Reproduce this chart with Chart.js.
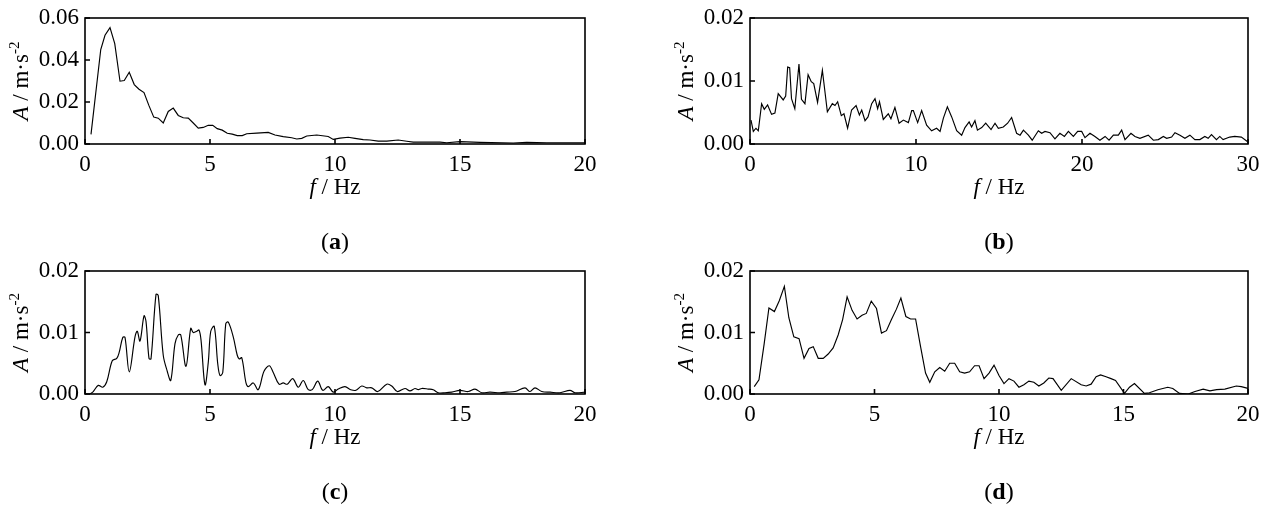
<!DOCTYPE html>
<html>
<head>
<meta charset="utf-8">
<title>Acceleration spectra</title>
<script src="https://cdn.jsdelivr.net/npm/chart.js@4.4.0/dist/chart.umd.min.js"></script>
<style>
  body { margin: 0; background: #fff; }
  #wrap { position: relative; width: 1269px; height: 518px; overflow: hidden; }
  canvas { position: absolute; }
</style>
</head>
<body>
<div id="wrap">
  <canvas id="chartA" width="634" height="255" style="left:0px;top:0px"></canvas>
  <canvas id="chartB" width="635" height="255" style="left:634px;top:0px"></canvas>
  <canvas id="chartC" width="634" height="268" style="left:0px;top:250px"></canvas>
  <canvas id="chartD" width="635" height="268" style="left:634px;top:250px"></canvas>
</div>
<script>
// panel (a)
const freqA = [0.24, 0.63, 0.8, 1.0, 1.19, 1.4, 1.57, 1.77, 1.97, 2.16,
    2.36, 2.55, 2.75, 2.93, 3.13, 3.33, 3.53, 3.73, 3.93, 4.13,
    4.33, 4.53, 4.73, 4.93, 5.11, 5.29, 5.49, 5.69, 5.89, 6.09,
    6.29, 6.47, 6.87, 7.33, 7.6, 7.93, 8.27, 8.47, 8.67, 8.87,
    9.27, 9.73, 9.93, 10.2, 10.53, 10.8, 11.13, 11.4, 11.73, 12.07,
    12.53, 12.87, 13.13, 14.2, 14.47, 15.0, 15.8, 17.13, 17.67, 18.47,
    20];
const ampA = [0.0046, 0.045, 0.0518, 0.0554, 0.0478, 0.0299, 0.0302, 0.0342, 0.0283, 0.0261,
    0.0245, 0.0185, 0.0128, 0.0123, 0.0100, 0.0155, 0.0171, 0.0136, 0.0125, 0.0123,
    0.0100, 0.0076, 0.0079, 0.0089, 0.0089, 0.0073, 0.0066, 0.0051, 0.0047, 0.0040,
    0.0040, 0.0049, 0.0052, 0.0055, 0.0043, 0.0035, 0.0030, 0.0024, 0.0027, 0.0038,
    0.0043, 0.0036, 0.0022, 0.0028, 0.0032, 0.0027, 0.0021, 0.0019, 0.0014, 0.0014,
    0.0019, 0.0013, 0.0009, 0.0009, 0.0006, 0.0011, 0.0008, 0.0005, 0.0008, 0.0006,
    0.0006];

// panel (b)
const freqB = [0.06, 0.2, 0.36, 0.5, 0.7, 0.86, 1.06, 1.3, 1.5, 1.7,
    2.0, 2.15, 2.27, 2.39, 2.5, 2.7, 2.95, 3.1, 3.31, 3.5,
    3.69, 3.84, 4.07, 4.36, 4.66, 4.96, 5.12, 5.28, 5.5, 5.66, 5.88,
    6.12, 6.39, 6.59, 6.73, 6.93, 7.11, 7.33, 7.53, 7.69, 7.8, 8.03,
    8.33, 8.49, 8.73, 8.98, 9.24, 9.54, 9.74, 9.84, 10.1, 10.34,
    10.64, 10.94, 11.24, 11.45, 11.65, 11.89, 12.15, 12.45, 12.75, 12.95,
    13.2, 13.35, 13.55, 13.7, 13.96, 14.2, 14.52, 14.76, 14.96, 15.26,
    15.52, 15.76, 16.06, 16.27, 16.47, 16.77, 17.0, 17.37, 17.57, 17.77,
    18.07, 18.37, 18.67, 18.94, 19.18, 19.48, 19.74, 19.98, 20.18, 20.48,
    20.78, 21.08, 21.39, 21.63, 21.89, 22.19, 22.39, 22.59, 22.95, 23.19,
    23.49, 23.99, 24.3, 24.6, 24.9, 25.1, 25.4, 25.6, 25.9, 26.2,
    26.5, 26.8, 27.1, 27.4, 27.6, 27.8, 28.1, 28.3, 28.5, 28.9,
    29.2, 29.6, 29.96];
const ampB = [0.0038, 0.0020, 0.0025, 0.0021, 0.0064, 0.0055, 0.0062, 0.0047, 0.0049, 0.0080,
    0.0070, 0.0076, 0.0122, 0.0121, 0.0072, 0.0056, 0.0127, 0.0071, 0.0064, 0.0110,
    0.0099, 0.0096, 0.0066, 0.0117, 0.0051, 0.0064, 0.0061, 0.0067, 0.0045, 0.0048, 0.0025,
    0.0054, 0.0061, 0.0046, 0.0054, 0.0037, 0.0043, 0.0064, 0.0072, 0.0056, 0.0067, 0.0039,
    0.0048, 0.0040, 0.0058, 0.0033, 0.0038, 0.0034, 0.0053, 0.0053, 0.0034, 0.0053,
    0.0030, 0.0021, 0.0025, 0.0020, 0.0041, 0.0059, 0.0043, 0.0021, 0.0014, 0.0026,
    0.0035, 0.0027, 0.0037, 0.0022, 0.0026, 0.0033, 0.0023, 0.0033, 0.0025, 0.0027,
    0.0033, 0.0042, 0.0017, 0.0014, 0.0022, 0.0014, 0.0006, 0.0021, 0.0017, 0.0020,
    0.0018, 0.0008, 0.0017, 0.0012, 0.0020, 0.0012, 0.0020, 0.0020, 0.0010, 0.0017,
    0.0012, 0.0006, 0.0012, 0.0006, 0.0014, 0.0014, 0.0022, 0.0007, 0.0017, 0.0012,
    0.0009, 0.0014, 0.0006, 0.0007, 0.0012, 0.0009, 0.0011, 0.0018, 0.0014, 0.0009,
    0.0014, 0.0007, 0.0007, 0.0012, 0.0009, 0.0015, 0.0007, 0.0012, 0.0007, 0.0011,
    0.0012, 0.0011, 0.0004];

// panel (c)
const freqC = [0.2, 0.33, 0.53, 0.71, 0.87, 1.09, 1.27, 1.37, 1.51, 1.6,
    1.77, 2.0, 2.09, 2.2, 2.36, 2.44, 2.56, 2.64, 2.84, 2.93,
    3.13, 3.29, 3.43, 3.6, 3.73, 3.83, 4.04, 4.23, 4.33, 4.47,
    4.56, 4.64, 4.8, 4.93, 5.03, 5.17, 5.31, 5.4, 5.51, 5.63,
    5.73, 5.93, 6.09, 6.17, 6.27, 6.44, 6.53, 6.73, 6.93, 7.16,
    7.37, 7.53, 7.76, 7.93, 8.09, 8.31, 8.53, 8.73, 8.93, 9.09,
    9.31, 9.51, 9.73, 9.93, 10.13, 10.4, 10.63, 10.84, 11.07, 11.27,
    11.47, 11.71, 12.07, 12.27, 12.49, 12.8, 13.0, 13.2, 13.33, 13.47,
    13.73, 13.93, 14.13, 14.4, 14.67, 15.0, 15.33, 15.6, 15.87, 16.2,
    16.6, 16.87, 17.2, 17.6, 17.8, 18.0, 18.27, 18.6, 19.0, 19.4,
    19.6, 20];
const ampC = [0.0000, 0.0004, 0.0014, 0.0011, 0.0020, 0.0054, 0.0058, 0.0068, 0.0092, 0.0092,
    0.0036, 0.0093, 0.0102, 0.0086, 0.0127, 0.0118, 0.0058, 0.0057, 0.0162, 0.0160,
    0.0063, 0.0037, 0.0022, 0.0082, 0.0096, 0.0096, 0.0045, 0.0107, 0.0100, 0.0102,
    0.0104, 0.0088, 0.0015, 0.0051, 0.0102, 0.0110, 0.0049, 0.0030, 0.0035, 0.0114,
    0.0117, 0.0093, 0.0063, 0.0057, 0.0059, 0.0018, 0.0012, 0.0018, 0.0007, 0.0037,
    0.0046, 0.0035, 0.0016, 0.0018, 0.0016, 0.0025, 0.0011, 0.0022, 0.0007, 0.0007,
    0.0021, 0.0006, 0.0012, 0.0003, 0.0008, 0.0012, 0.0007, 0.0006, 0.0013, 0.0010,
    0.0010, 0.0004, 0.0016, 0.0013, 0.0004, 0.0009, 0.0005, 0.0009, 0.0007, 0.0009,
    0.0008, 0.0007, 0.0002, 0.0002, 0.0003, 0.0006, 0.0004, 0.0008, 0.0002, 0.0003,
    0.0002, 0.0003, 0.0004, 0.0010, 0.0004, 0.0010, 0.0004, 0.0003, 0.0002, 0.0006,
    0.0002, 0.0003];

// panel (d)
const freqD = [0.17, 0.36, 0.57, 0.76, 0.98, 1.18, 1.38, 1.56, 1.76, 1.97,
    2.17, 2.37, 2.54, 2.74, 2.94, 3.14, 3.34, 3.54, 3.72, 3.9,
    4.1, 4.3, 4.5, 4.67, 4.87, 5.08, 5.28, 5.48, 5.68, 5.88,
    6.06, 6.26, 6.45, 6.65, 6.85, 7.05, 7.22, 7.42, 7.62, 7.82,
    8.02, 8.22, 8.42, 8.62, 8.82, 9.02, 9.2, 9.4, 9.6, 9.8,
    10.0, 10.2, 10.4, 10.6, 10.8, 11.0, 11.2, 11.4, 11.6, 11.8,
    12.0, 12.17, 12.5, 12.9, 13.3, 13.5, 13.7, 13.9, 14.08, 14.3,
    14.5, 14.68, 15.04, 15.24, 15.44, 15.84, 16.04, 16.38, 16.78, 16.98,
    17.25, 17.6, 17.87, 18.2, 18.47, 18.74, 19.07, 19.53, 19.73, 20];
const ampD = [0.0012, 0.0023, 0.0082, 0.0140, 0.0134, 0.0152, 0.0175, 0.0124, 0.0093, 0.0090,
    0.0058, 0.0074, 0.0077, 0.0058, 0.0058, 0.0065, 0.0075, 0.0096, 0.0121, 0.0158,
    0.0136, 0.0122, 0.0128, 0.0131, 0.0151, 0.0139, 0.0099, 0.0103, 0.0121, 0.0138,
    0.0156, 0.0126, 0.0122, 0.0122, 0.0077, 0.0034, 0.0019, 0.0036, 0.0043, 0.0037,
    0.0050, 0.0050, 0.0036, 0.0034, 0.0036, 0.0046, 0.0046, 0.0025, 0.0034, 0.0047,
    0.0030, 0.0017, 0.0025, 0.0021, 0.0011, 0.0015, 0.0021, 0.0019, 0.0013, 0.0018,
    0.0026, 0.0025, 0.0006, 0.0025, 0.0015, 0.0013, 0.0016, 0.0028, 0.0031, 0.0028,
    0.0025, 0.0022, 0.0001, 0.0011, 0.0017, 0.0001, 0.0002, 0.0007, 0.0011, 0.0009,
    0.0001, 0.0000, 0.0004, 0.0008, 0.0005, 0.0007, 0.0008, 0.0013, 0.0012, 0.0009];

const serif = '"Liberation Serif", "Times New Roman", serif';

// draw a row of text pieces with their own fonts, centred on (x, y)
function drawPieces(ctx, pieces, x, y) {
    let total = 0;
    pieces.forEach(p => { ctx.font = p.font; p.w = ctx.measureText(p.text).width; total += p.w; });
    let cx = x - total / 2;
    ctx.textAlign = 'left';
    ctx.textBaseline = 'alphabetic';
    pieces.forEach(p => {
        ctx.font = p.font;
        ctx.fillText(p.text, cx, y + (p.dy || 0));
        cx += p.w;
    });
}

const framePlugin = {
    id: 'frame',
    afterDraw(chart, args, opts) {
        const { ctx, chartArea: a, scales } = chart;
        ctx.save();
        ctx.strokeStyle = '#000';
        ctx.fillStyle = '#000';
        ctx.lineWidth = 1.6;
        ctx.strokeRect(a.left, a.top, a.right - a.left, a.bottom - a.top);

        // inward tick marks
        ctx.beginPath();
        scales.x.ticks.forEach(t => {
            const px = scales.x.getPixelForValue(t.value);
            ctx.moveTo(px, a.bottom);
            ctx.lineTo(px, a.bottom - 5);
        });
        scales.y.ticks.forEach(t => {
            const py = scales.y.getPixelForValue(t.value);
            ctx.moveTo(a.left, py);
            ctx.lineTo(a.left + 5, py);
        });
        ctx.stroke();

        const mid = (a.left + a.right) / 2;
        const regular = '23px ' + serif;
        const italic = 'italic 23px ' + serif;

        // x title
        drawPieces(ctx, [
            { text: 'f', font: italic },
            { text: ' / Hz', font: regular }
        ], mid, a.bottom + 50);

        // y title
        ctx.save();
        ctx.translate(a.left - 57, (a.top + a.bottom) / 2);
        ctx.rotate(-Math.PI / 2);
        drawPieces(ctx, [
            { text: 'A', font: italic },
            { text: ' / m·s', font: regular },
            { text: '-2', font: '15px ' + serif, dy: -9 }
        ], 0, 0);
        ctx.restore();

        // caption
        drawPieces(ctx, [
            { text: '(', font: '24px ' + serif },
            { text: opts.caption, font: 'bold 24px ' + serif },
            { text: ')', font: '24px ' + serif }
        ], mid, a.bottom + 105);
        ctx.restore();
    }
};

function makePanel(id, freq, amp, opt) {
    const points = freq.map((f, i) => ({ x: f, y: amp[i] }));
    const ctx = document.getElementById(id).getContext('2d');
    return new Chart(ctx, {
        type: 'line',
        data: {
            datasets: [{
                data: points,
                borderColor: '#000',
                borderWidth: 1.15,
                pointRadius: 0,
                fill: false,
                tension: opt.tension
            }]
        },
        options: {
            responsive: false,
            animation: false,
            layout: { padding: { top: opt.top, right: opt.right, left: 0, bottom: 0 } },
            scales: {
                x: {
                    type: 'linear',
                    min: 0,
                    max: opt.xMax,
                    grid: { display: false, drawTicks: false },
                    border: { display: false },
                    ticks: {
                        stepSize: opt.xStep,
                        color: '#000',
                        padding: 9,
                        maxRotation: 0,
                        font: { family: serif, size: 23, lineHeight: 1 }
                    },
                    afterFit(scale) { scale.height = opt.xHeight; }
                },
                y: {
                    min: 0,
                    max: opt.yMax,
                    grid: { display: false, drawTicks: false },
                    border: { display: false },
                    ticks: {
                        stepSize: opt.yStep,
                        color: '#000',
                        padding: 6,
                        font: { family: serif, size: 23, lineHeight: 1 },
                        callback: value => value.toFixed(2)
                    },
                    afterFit(scale) { scale.width = opt.yWidth; }
                }
            },
            plugins: {
                legend: { display: false },
                tooltip: { enabled: false },
                frame: { caption: opt.caption }
            }
        },
        plugins: [framePlugin]
    });
}

makePanel('chartA', freqA, ampA, { caption: 'a', xMax: 20, xStep: 5, yMax: 0.06, yStep: 0.02,
    top: 18, right: 49, yWidth: 85, xHeight: 111, tension: 0 });
makePanel('chartB', freqB, ampB, { caption: 'b', xMax: 30, xStep: 10, yMax: 0.02, yStep: 0.01,
    top: 18, right: 21, yWidth: 116, xHeight: 111, tension: 0 });
makePanel('chartC', freqC, ampC, { caption: 'c', xMax: 20, xStep: 5, yMax: 0.02, yStep: 0.01,
    top: 21, right: 49, yWidth: 85, xHeight: 124, tension: 0.35 });
makePanel('chartD', freqD, ampD, { caption: 'd', xMax: 20, xStep: 5, yMax: 0.02, yStep: 0.01,
    top: 21, right: 21, yWidth: 116, xHeight: 124, tension: 0 });
</script>
</body>
</html>
